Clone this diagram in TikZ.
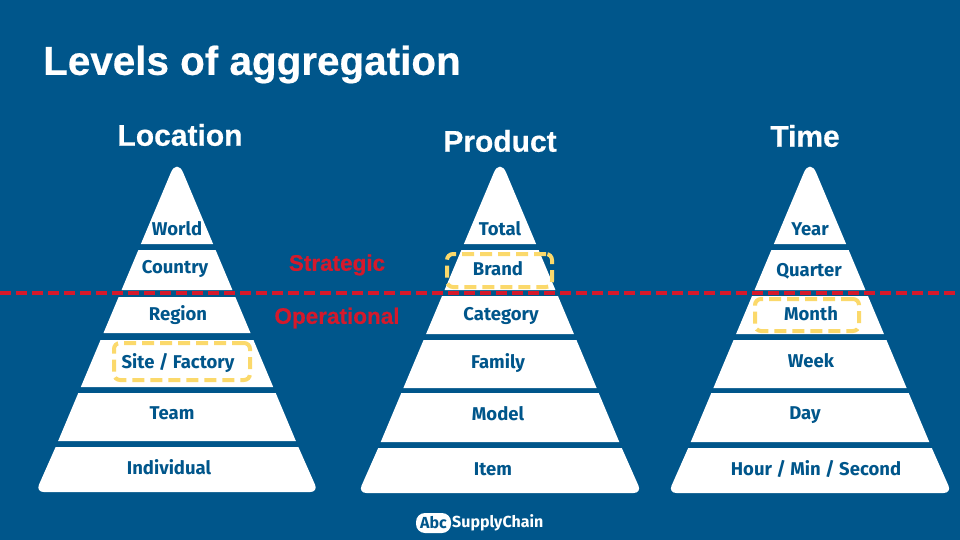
\documentclass[tikz,border=0pt]{standalone}
\usepackage{fontspec}
\setmainfont{Fira Sans}
\newfontfamily\headfont[FakeBold=0.5]{Liberation Sans Bold}
\usepackage{tikz}
\definecolor{bgblue}{HTML}{00568B}
\definecolor{dashred}{HTML}{D5192B}
\definecolor{boxyellow}{HTML}{FBD96B}
\tikzset{
    lvl/.style={text=bgblue, font=\bfseries\fontsize{18.5}{18.5}\selectfont, inner sep=0pt},
    head/.style={text=white, font=\headfont\fontsize{30}{30}\selectfont, inner sep=0pt},
    zone/.style={text=dashred, font=\headfont\fontsize{22.5}{22.5}\selectfont, inner sep=0pt},
    hilite/.style={draw=boxyellow, line width=4pt, rounded corners=6pt, dash pattern=on 12pt off 6pt}
}
% half width of a pyramid at height y: 0.42*(y-158)
\newcommand{\apexw}[2]{\pgfmathsetmacro{\hw}{0.42*(#2-158)}
    \fill[white] (#1-\hw,#2) [rounded corners=16pt] -- (#1,158) [sharp corners] -- (#1+\hw,#2) -- cycle;}
\newcommand{\layerw}[3]{\pgfmathsetmacro{\hwa}{0.42*(#2-158)}\pgfmathsetmacro{\hwb}{0.42*(#3-158)}
    \fill[white] (#1-\hwa,#2) -- (#1+\hwa,#2) -- (#1+\hwb,#3) -- (#1-\hwb,#3) -- cycle;}
\newcommand{\basew}[3]{\pgfmathsetmacro{\hwa}{0.42*(#2-158)}\pgfmathsetmacro{\hwb}{0.42*(#3-158)+1}
    \fill[white] (#1-\hwa,#2) -- (#1+\hwa,#2) [rounded corners=8pt] -- (#1+\hwb,#3) -- (#1-\hwb,#3) [sharp corners] -- cycle;}

\begin{document}
\begin{tikzpicture}[x=1pt, y=-1pt]
    \useasboundingbox (0,0) rectangle (960,540);
    \fill[bgblue] (0,0) rectangle (960,540);
    \node[head, anchor=west, font=\headfont\fontsize{40.4}{40.4}\selectfont] (title) at (43,64.5) {Levels of aggregation};
    % location
    \node[head] (location) at (180,135) {Location};
    \apexw{177}{244}
    \layerw{177}{250}{290}
    \layerw{177}{297}{333}
    \layerw{177}{340}{387}
    \layerw{177}{393}{441}
    \basew{177}{447}{492}
    \node[lvl] (world) at (177,229) {World};
    \node[lvl] (country) at (175,269) {Country};
    \node[lvl] (region) at (178,315) {Region};
    \node[lvl] (site) at (178,363) {Site / Factory};
    \node[lvl] (team) at (172,413) {Team};
    \node[lvl] (individual) at (169,467.5) {Individual};
    % product
    \node[head] (product) at (500,141) {Product};
    \apexw{500}{244}
    \layerw{500}{250}{290}
    \layerw{500}{296}{334}
    \layerw{500}{340}{388}
    \layerw{500}{393}{442}
    \basew{500}{448}{493}
    \node[lvl] (total) at (500,229) {Total};
    \node[lvl] (brand) at (498,269) {Brand};
    \node[lvl] (category) at (501,315.5) {Category};
    \node[lvl] (family) at (498,363) {Family};
    \node[lvl] (model) at (498,414) {Model};
    \node[lvl] (item) at (493,469) {Item};
    % time
    \node[head] (time) at (805,136) {Time};
    \apexw{810}{244}
    \layerw{810}{250}{290}
    \layerw{810}{296}{334}
    \layerw{810}{340}{388}
    \layerw{810}{393}{442}
    \basew{810}{448}{493}
    \node[lvl] (year) at (810,229) {Year};
    \node[lvl] (quarter) at (809,271) {Quarter};
    \node[lvl] (month) at (811,314) {Month};
    \node[lvl] (week) at (811,361) {Week};
    \node[lvl] (day) at (805,415) {Day};
    \node[lvl] (hour) at (816,469) {Hour / Min / Second};
    % strategic / operational
    \coordinate (cutl) at (0,293);
    \coordinate (cutr) at (960,293);
    \draw[dashred, line width=4.5pt, dash pattern=on 11pt off 5pt] (cutl) -- (cutr);
    \node[zone] (strategic) at (337,265) {Strategic};
    \node[zone] (operational) at (337,318) {Operational};
    % highlights
    \node[hilite, minimum width=136pt, minimum height=37pt] (sitebox) at (182,361.5) {};
    \node[hilite, minimum width=105pt, minimum height=33pt] (brandbox) at (499.5,270.5) {};
    \node[hilite, minimum width=104pt, minimum height=32pt] (monthbox) at (807,315) {};
    % logo
    \node[fill=white, rounded corners=9pt, minimum width=35pt, minimum height=20pt, inner sep=0pt] (abcpill) at (433.5,523) {};
    \node[text=bgblue, font=\bfseries\fontsize{16}{16}\selectfont, inner sep=0pt] (abc) at (abcpill) {Abc};
    \node[text=white, font=\bfseries\fontsize{16}{16}\selectfont, inner sep=0pt, anchor=west] (supply) at (452,523) {SupplyChain};
\end{tikzpicture}
\end{document}
